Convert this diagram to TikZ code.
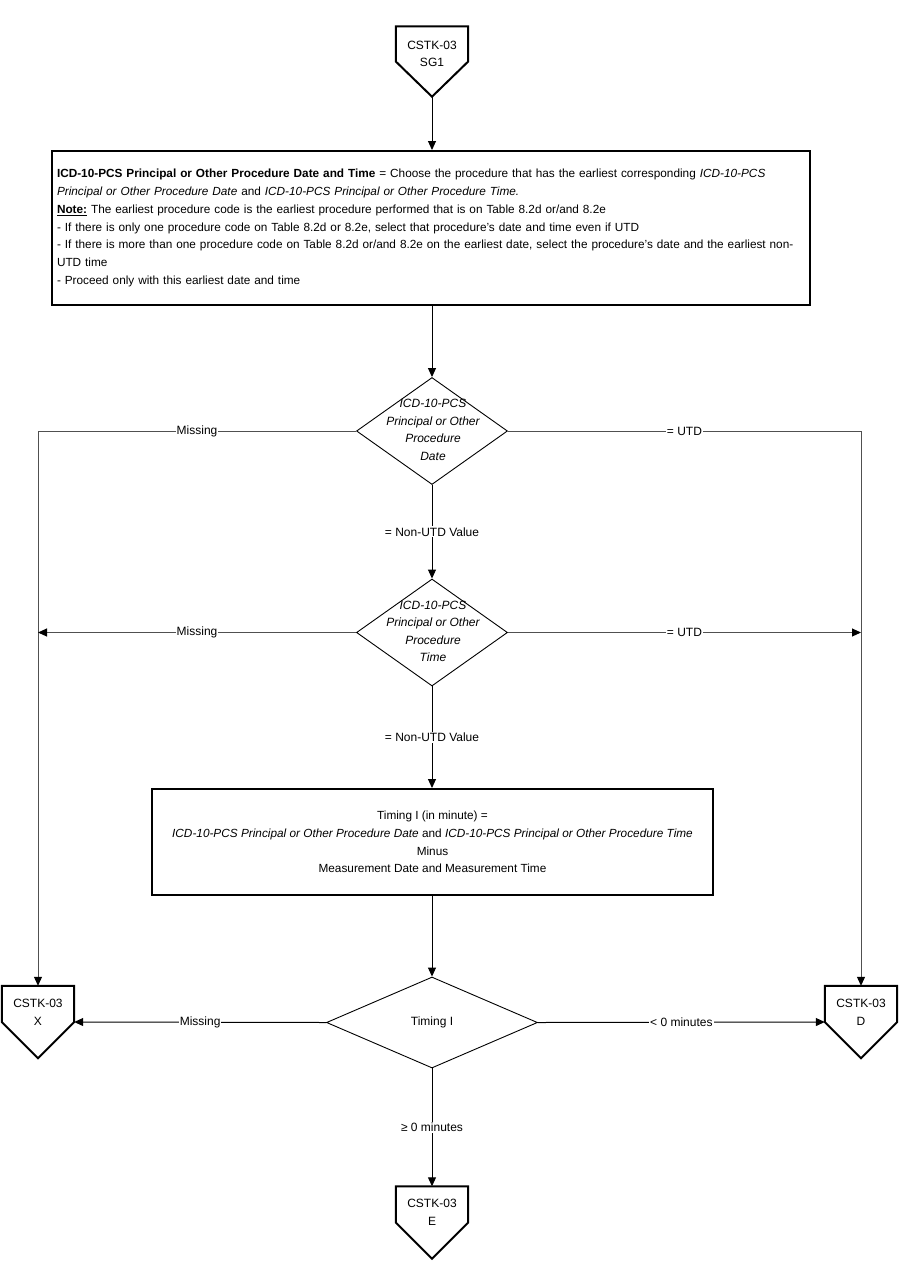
\documentclass[tikz,border=0pt]{standalone}
\usepackage{fontspec}
\setmainfont{Liberation Sans}
\usetikzlibrary{arrows.meta,shapes.geometric,calc}
\definecolor{sidegray}{RGB}{80,80,80}
\begin{document}
\begin{tikzpicture}[x=1pt,y=-1pt,
  every node/.style={font=\fontsize{12}{17.7}\selectfont},
  bigbox/.style={draw, line width=2pt, inner xsep=5pt, inner ysep=0pt, align=left, text width=748pt, minimum height=154pt, font=\fontsize{11.8}{17.7}\selectfont},
  calcbox/.style={draw, line width=2pt, align=center, minimum width=561pt, minimum height=106pt, inner sep=0pt, font=\fontsize{11.8}{17.7}\selectfont},
  dia/.style={draw, diamond, inner sep=0pt, line width=0.9pt},
  diatext/.style={align=center, font=\fontsize{12}{17.5}\selectfont\itshape, inner sep=0pt},
  offbox/.style={minimum width=72pt, minimum height=72pt, inner sep=0pt},
  offline/.style={line width=2pt, line join=miter},
  offtext/.style={align=center, inner sep=0pt},
  conn/.style={line width=1pt, -{Triangle[length=9pt,width=8pt,color=black]}},
  side/.style={draw=sidegray},
  lbl/.style={fill=white, inner sep=1pt}
]
\useasboundingbox[fill=white] (0,0) rectangle (900,1286);

% off-page connectors
\node[offbox, minimum height=70pt] (sg1) at (432,61.5) {};
\draw[offline] (sg1.north west) -- (sg1.north east) -- (sg1.east) -- (sg1.south) -- (sg1.west) -- cycle;
\node[offtext] (sg1t) at ($(sg1.center)+(0,-7.5)$) {CSTK-03\\SG1};

\node[offbox] (xo) at (38,1022) {};
\draw[offline] (xo.north west) -- (xo.north east) -- (xo.east) -- (xo.south) -- (xo.west) -- cycle;
\node[offtext] (xot) at ($(xo.center)+(0,-10)$) {CSTK-03\\X};

\node[offbox] (do) at (861,1022) {};
\draw[offline] (do.north west) -- (do.north east) -- (do.east) -- (do.south) -- (do.west) -- cycle;
\node[offtext] (dot) at ($(do.center)+(0,-10)$) {CSTK-03\\D};

\node[offbox] (eo) at (432,1222.5) {};
\draw[offline] (eo.north west) -- (eo.north east) -- (eo.east) -- (eo.south) -- (eo.west) -- cycle;
\node[offtext] (eot) at ($(eo.center)+(0,-10)$) {CSTK-03\\E};

% top box
\node[bigbox] (b1) at (431,228) {\textbf{ICD-10-PCS Principal or Other Procedure Date and Time} = Choose the procedure that has the earliest corresponding \textit{ICD-10-PCS}\\
\textit{Principal or Other Procedure Date} and \textit{ICD-10-PCS Principal or Other Procedure Time.}\\
\underline{\textbf{Note:}} The earliest procedure code is the earliest procedure performed that is on Table 8.2d or/and 8.2e\\
- If there is only one procedure code on Table 8.2d or 8.2e, select that procedure’s date and time even if UTD\\
- If there is more than one procedure code on Table 8.2d or/and 8.2e on the earliest date, select the procedure’s date and the earliest non-\\
UTD time\\
- Proceed only with this earliest date and time};

% diamonds
\node[dia, minimum width=151pt, minimum height=107pt] (d1) at (432,431) {};
\node[diatext] (d1t) at (433,430) {ICD-10-PCS\\Principal or Other\\Procedure\\Date};

\node[dia, minimum width=151pt, minimum height=107pt] (d2) at (432,632.5) {};
\node[diatext] (d2t) at (433,631.5) {ICD-10-PCS\\Principal or Other\\Procedure\\Time};

\node[calcbox] (b2) at (432.5,842) {Timing I (in minute) =\\
\textit{ICD-10-PCS Principal or Other Procedure Date} and \textit{ICD-10-PCS Principal or Other Procedure Time}\\
Minus\\
Measurement Date and Measurement Time};

\node[dia, minimum width=211pt, minimum height=91pt] (d3) at (432,1022.5) {};
\node[offtext] (d3t) at (d3.center) {Timing I};

% connectors
\draw[conn] (sg1.south) -- (sg1.south |- b1.north);
\draw[conn] (d1.north |- b1.south) -- (d1.north);
\draw[conn] (d1.south) -- node[lbl]{= Non-UTD Value} (d2.north);
\draw[conn] (d2.south) -- node[lbl]{= Non-UTD Value} (d2.south |- b2.north);
\draw[conn] (d3.north |- b2.south) -- (d3.north);
\draw[conn] (d3.south) -- node[lbl]{≥ 0 minutes} (eo.north);
\draw[conn] (d3.west) -- node[lbl]{Missing} (xo.east);
\draw[conn] (d3.east) -- node[lbl]{< 0 minutes} (do.west);

\draw[conn, side] (d1.west) -- node[lbl]{Missing} (d1.west -| xo.north) -- (xo.north);
\draw[conn, side] (d2.west) -- node[lbl]{Missing} (d2.west -| xo.north);
\draw[conn, side] (d1.east) -- node[lbl]{= UTD} (d1.east -| do.north) -- (do.north);
\draw[conn, side] (d2.east) -- node[lbl]{= UTD} (d2.east -| do.north);
\end{tikzpicture}
\end{document}
